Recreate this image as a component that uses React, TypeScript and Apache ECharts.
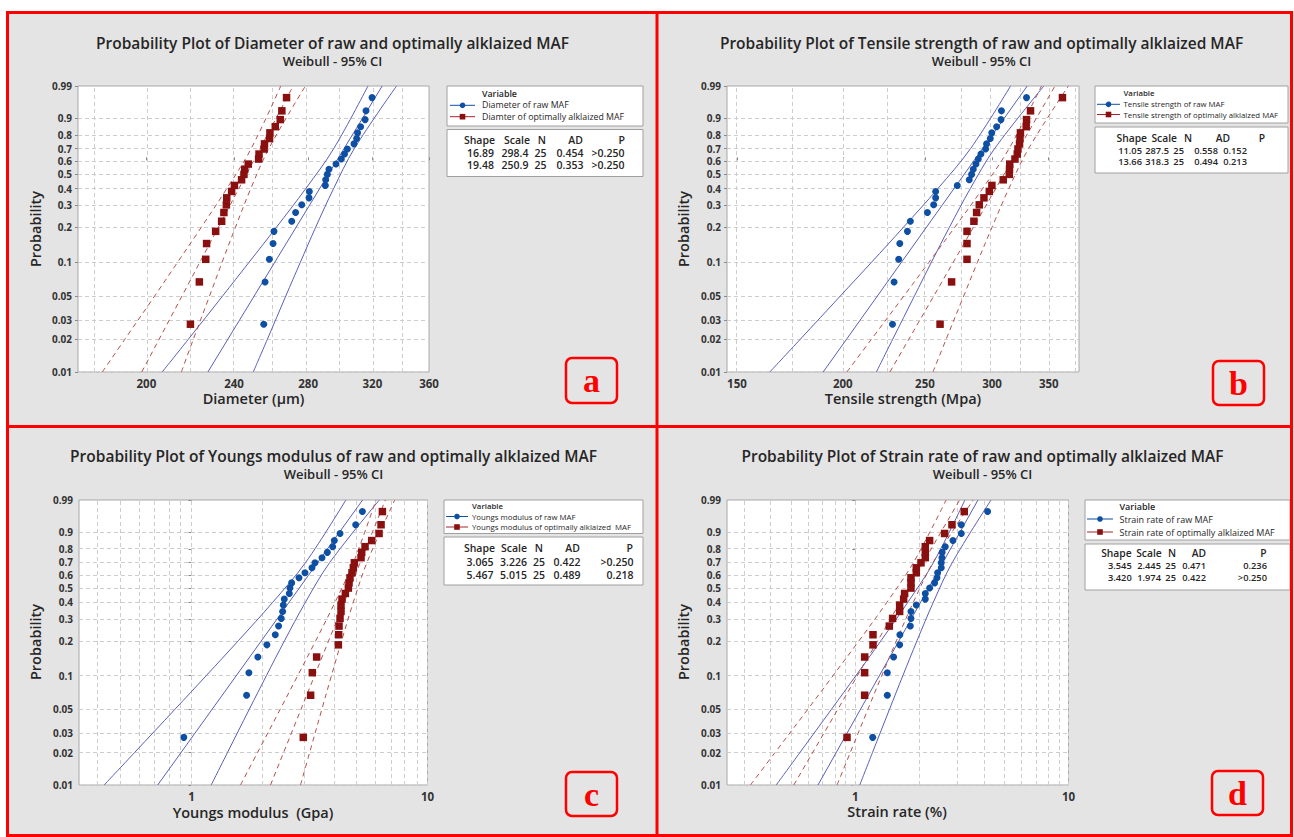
import React, { useEffect, useRef } from "react";
import * as echarts from "echarts";

// ---------------- data ----------------
// median-rank plotting positions of the 25 ordered observations
const plotPositions = [
  0.0276, 0.0669, 0.1063, 0.1457, 0.185, 0.2244, 0.2638, 0.3031, 0.3425, 0.3819, 0.4213, 0.4606, 0.5,
  0.5394, 0.5787, 0.6181, 0.6575, 0.6969, 0.7362, 0.7756, 0.815, 0.8543, 0.8937, 0.9331, 0.9724,
];
const probTickValues = [0.01, 0.02, 0.03, 0.05, 0.1, 0.2, 0.3, 0.4, 0.5, 0.6, 0.7, 0.8, 0.9, 0.99];
const ciLevels = [0.01, 0.02, 0.05, 0.1, 0.2, 0.4, 0.7, 0.99];
const fitLevels = [0.01, 0.99];

// (a) Diameter
const diameterRange = [173.5, 360];
const diameterTicks = [200, 240, 280, 320, 360];
const diameterGrid = [180, 200, 220, 240, 260, 280, 300, 320, 340, 360];
const diameterRaw = [255.3, 256.0, 258.3, 260.3, 260.8, 270.6, 272.8, 276.3, 280.5, 280.7, 290.2, 290.4, 291.4, 292.4, 296.7, 300.0, 302.0, 303.8, 308.0, 309.7, 310.3, 312.3, 315.2, 315.8, 319.8];
const diameterAlk = [219.2, 223.3, 226.3, 226.7, 231.0, 233.9, 235.0, 236.2, 236.4, 238.8, 240.2, 243.8, 245.0, 245.4, 247.2, 252.6, 252.8, 255.5, 255.7, 258.4, 258.6, 261.5, 264.2, 265.1, 267.7];
const diameterRawFit = [227.3, 326.6];
const diameterRawLo = [206.7, 218.2, 234.4, 247.6, 262.1, 278.6, 295.3, 317.1];
const diameterRawHi = [249.8, 257.2, 267.3, 275.5, 284.4, 295.2, 308.2, 336.5];
const diameterAlkFit = [198.1, 271.4];
const diameterAlkLo = [182.5, 191.2, 203.5, 213.4, 224.2, 236.4, 248.7, 264.5];
const diameterAlkHi = [215.1, 220.5, 228.1, 234.1, 240.7, 248.5, 258.0, 278.4];

// (b) Tensile strength
const tensileRange = [146, 380];
const tensileTicks = [150, 200, 250, 300, 350];
const tensileGrid = [150, 175, 200, 225, 250, 275, 300, 325, 350, 375];
const tensileRaw = [228.9, 229.9, 232.8, 233.5, 238.4, 240.3, 251.7, 256.0, 257.4, 257.4, 273.0, 282.0, 283.8, 285.1, 287.2, 289.0, 291.1, 294.8, 295.6, 298.6, 299.8, 303.8, 307.4, 307.8, 329.5];
const tensileAlk = [260.5, 268.8, 280.3, 280.3, 280.3, 285.6, 287.7, 289.8, 293.5, 297.8, 299.9, 309.3, 314.4, 314.6, 314.8, 319.3, 321.3, 321.9, 323.3, 323.7, 324.1, 329.2, 329.5, 333.1, 363.3];
const tensileRawFit = [189.6, 330.1];
const tensileRawLo = [164.0, 178.1, 198.7, 216.2, 235.8, 258.9, 283.0, 315.5];
const tensileRawHi = [219.1, 229.0, 243.0, 254.4, 267.2, 282.8, 302.1, 345.4];
const tensileAlkFit = [227.3, 356.0];
const tensileAlkLo = [202.2, 216.1, 236.1, 252.7, 271.1, 292.4, 314.2, 343.2];
const tensileAlkHi = [255.5, 264.8, 277.8, 288.3, 300.0, 314.0, 331.3, 369.2];

// (c) Youngs modulus
const youngsRange = [0.3338, 10];
const youngsTicks = [1, 10];
const youngsGrid = [0.4, 0.5, 0.6, 0.7, 0.8, 0.9, 1, 2, 3, 4, 5, 6, 7, 8, 9, 10];
const youngsRaw = [0.928, 1.712, 1.751, 1.911, 2.087, 2.265, 2.339, 2.401, 2.433, 2.449, 2.473, 2.597, 2.614, 2.657, 2.854, 3.026, 3.24, 3.336, 3.573, 3.763, 3.965, 4.03, 4.26, 4.963, 5.299];
const youngsAlk = [2.977, 3.198, 3.251, 3.391, 4.191, 4.204, 4.218, 4.26, 4.301, 4.301, 4.343, 4.487, 4.62, 4.65, 4.696, 4.788, 4.851, 4.899, 5.229, 5.263, 5.437, 5.801, 6.233, 6.356, 6.44];
const youngsRawFit = [0.7192, 5.3096];
const youngsRawLo = [0.4267, 0.5741, 0.8522, 1.1542, 1.5784, 2.2097, 3.0466, 4.5104];
const youngsRawHi = [1.2122, 1.4211, 1.7583, 2.0765, 2.4777, 3.0384, 3.8558, 6.2504];
const youngsAlkFit = [2.1619, 6.6313];
const youngsAlkLo = [1.6133, 1.9054, 2.3776, 2.8184, 3.3593, 4.0565, 4.8567, 6.0517];
const youngsAlkHi = [2.897, 3.167, 3.5686, 3.9174, 4.3253, 4.8493, 5.5423, 7.2663];

// (d) Strain rate
const strainRange = [0.25, 10];
const strainTicks = [1, 10];
const strainGrid = [0.3, 0.4, 0.5, 0.6, 0.7, 0.8, 0.9, 1, 2, 3, 4, 5, 6, 7, 8, 9, 10];
const strainRaw = [1.206, 1.413, 1.413, 1.512, 1.614, 1.618, 1.811, 1.824, 1.824, 1.932, 2.129, 2.129, 2.231, 2.354, 2.415, 2.432, 2.53, 2.53, 2.548, 2.555, 2.642, 2.87, 3.141, 3.141, 4.173];
const strainAlk = [0.914, 1.106, 1.106, 1.106, 1.21, 1.21, 1.443, 1.496, 1.614, 1.614, 1.685, 1.703, 1.824, 1.824, 1.824, 1.932, 1.932, 2.032, 2.129, 2.129, 2.129, 2.231, 2.623, 2.84, 3.243];
const strainRawFit = [0.668, 3.7617];
const strainRawLo = [0.4254, 0.5497, 0.7734, 1.0053, 1.3179, 1.7628, 2.327, 3.2668];
const strainRawHi = [1.0489, 1.2034, 1.4468, 1.6705, 1.9462, 2.3215, 2.8526, 4.3314];
const strainAlkFit = [0.5143, 3.0853];
const strainAlkLo = [0.3221, 0.4202, 0.5987, 0.7857, 1.0403, 1.4063, 1.8753, 2.6656];
const strainAlkHi = [0.821, 0.9468, 1.1459, 1.33, 1.5583, 1.8708, 2.3161, 3.5708];

// texts
const panelTitles = [
  "Probability Plot of Diameter of raw and optimally alklaized MAF",
  "Probability Plot of Tensile strength of raw and optimally alklaized MAF",
  "Probability Plot of Youngs modulus of raw and optimally alklaized MAF",
  "Probability Plot of Strain rate of raw and optimally alklaized MAF",
];
const subTitle = "Weibull - 95% CI";
const xNames = ["Diameter (μm)", "Tensile strength (Mpa)", "Youngs modulus  (Gpa)", "Strain rate (%)"];
const yName = "Probability";
const legendLabels = [
  ["Diameter of raw MAF", "Diamter of optimally alklaized MAF"],
  ["Tensile strength of raw MAF", "Tensile strength of optimally alklaized MAF"],
  ["Youngs modulus of raw MAF", "Youngs modulus of optimally alklaized  MAF"],
  ["Strain rate of raw MAF", "Strain rate of optimally alklaized MAF"],
];
const tableHeader = ["Shape", "Scale", "N", "AD", "P"];
const tableRows = [
  [["16.89", "298.4", "25", "0.454", ">0.250"], ["19.48", "250.9", "25", "0.353", ">0.250"]],
  [["11.05", "287.5", "25", "0.558", "0.152"], ["13.66", "318.3", "25", "0.494", "0.213"]],
  [["3.065", "3.226", "25", "0.422", ">0.250"], ["5.467", "5.015", "25", "0.489", "0.218"]],
  [["3.545", "2.445", "25", "0.471", "0.236"], ["3.420", "1.974", "25", "0.422", ">0.250"]],
];
const letters = ["a", "b", "c", "d"];

// ---------------- layout / styles ----------------
const FONT = '"Open Sans", "Noto Sans", sans-serif';
const BLUE = "#0d4fa3";
const BLUE_LINE = "#5a5fb8";
const RED = "#8a0f0f";
const RED_LINE = "#b4514e";
const TEXT = "#262626";

const layout = [
  {
    grid: { left: 78, top: 86, width: 351, height: 286 },
    title: [332.5, 42.5, 60.5], xName: [253.5, 398], yName: [35, 229],
    legend: { box: [447, 86, 196, 40], variable: [482, 94], items: [105.3, 116.7], line: [450, 475], text: 482, size: 8.8 },
    table: { box: [447, 129.5, 196, 47], header: 140, rows: [152.5, 165], headerRight: [495, 530, 546, 583, 625], rowRight: [494, 528.5, 546.5, 583.5, 624.5], headerSize: 10.5, rowSize: 10.5 },
    letter: [566, 358, 51, 45],
  },
  {
    grid: { left: 727, top: 86, width: 352, height: 286 },
    title: [981.5, 42.5, 60.5], xName: [903, 398], yName: [683, 229],
    legend: { box: [1095, 86, 193, 37], variable: [1123.5, 93.3], items: [104.3, 114.5], line: [1097, 1120], text: 1123.5, size: 7.8 },
    table: { box: [1095, 127, 193, 46], header: 137.5, rows: [150, 161.5], headerRight: [1147, 1177, 1192, 1230, 1265], rowRight: [1142, 1169, 1184, 1218, 1247], headerSize: 10.3, rowSize: 9.3 },
    letter: [1213, 361, 51, 44],
  },
  {
    grid: { left: 79, top: 500, width: 348.5, height: 285 },
    title: [333.5, 455.5, 473.5], xName: [253, 812], yName: [35, 642],
    legend: { box: [444, 500, 199, 33.5], variable: [472, 506], items: [516.5, 527], line: [446, 468], text: 472, size: 7.8 },
    table: { box: [444, 537, 199, 48], header: 548, rows: [561.5, 574.5], headerRight: [495, 527, 543, 580, 633], rowRight: [493.5, 527, 545, 580.5, 633.5], headerSize: 10.5, rowSize: 10.5 },
    letter: [566, 772, 51, 44],
  },
  {
    grid: { left: 727, top: 500, width: 341.5, height: 285 },
    title: [982.5, 455.5, 473.5], xName: [897, 811], yName: [683, 642],
    legend: { box: [1085, 500, 205, 40], variable: [1119.5, 506], items: [519, 532], line: [1087, 1113], text: 1119.5, size: 9 },
    table: { box: [1085, 544, 205, 46], header: 552.5, rows: [565, 577.5], headerRight: [1131.7, 1161.7, 1176, 1206, 1266.7], rowRight: [1131.7, 1161, 1176, 1206, 1267], headerSize: 10.3, rowSize: 9.3 },
    letter: [1212, 771, 51, 44],
  },
];

const panelData = [
  { range: diameterRange, ticks: diameterTicks, grid: diameterGrid, raw: diameterRaw, alk: diameterAlk, rawFit: diameterRawFit, rawLo: diameterRawLo, rawHi: diameterRawHi, alkFit: diameterAlkFit, alkLo: diameterAlkLo, alkHi: diameterAlkHi },
  { range: tensileRange, ticks: tensileTicks, grid: tensileGrid, raw: tensileRaw, alk: tensileAlk, rawFit: tensileRawFit, rawLo: tensileRawLo, rawHi: tensileRawHi, alkFit: tensileAlkFit, alkLo: tensileAlkLo, alkHi: tensileAlkHi },
  { range: youngsRange, ticks: youngsTicks, grid: youngsGrid, raw: youngsRaw, alk: youngsAlk, rawFit: youngsRawFit, rawLo: youngsRawLo, rawHi: youngsRawHi, alkFit: youngsAlkFit, alkLo: youngsAlkLo, alkHi: youngsAlkHi },
  { range: strainRange, ticks: strainTicks, grid: strainGrid, raw: strainRaw, alk: strainAlk, rawFit: strainRawFit, rawLo: strainRawLo, rawHi: strainRawHi, alkFit: strainAlkFit, alkLo: strainAlkLo, alkHi: strainAlkHi },
];

// Weibull probability scale and log value scale
const Yp = (p: number) => Math.log(-Math.log(1 - p));
const Lx = (v: number) => Math.log(v);

function text(x: number, y: number, s: string, o: any = {}) {
  const size = o.size || 12;
  return {
    type: "text",
    x,
    y,
    z: 100,
    silent: true,
    rotation: o.rotation || 0,
    style: {
      text: s,
      fill: o.color || TEXT,
      fontSize: size,
      lineHeight: Math.round(size * 1.05),
      fontWeight: o.weight || "normal",
      fontFamily: o.family || FONT,
      align: o.align || "left",
      verticalAlign: o.va || "middle",
      textAlign: o.align || "left",
      textVerticalAlign: o.va || "middle",
    },
  };
}

function buildOption() {
  const grids: any[] = [];
  const xAxes: any[] = [];
  const yAxes: any[] = [];
  const series: any[] = [];
  const graphics: any[] = [];

  // frame outside strips (white) and red frame
  graphics.push({ type: "rect", z: 99, silent: true, shape: { x: 0, y: 0, width: 1294, height: 11 }, style: { fill: "#ffffff" } });
  graphics.push({ type: "rect", z: 99, silent: true, shape: { x: 0, y: 0, width: 6, height: 837 }, style: { fill: "#ffffff" } });
  graphics.push({ type: "rect", z: 100, silent: true, shape: { x: 7.5, y: 12.5, width: 1284, height: 823 }, style: { fill: "none", stroke: "#ff0000", lineWidth: 3 } });
  graphics.push({ type: "line", z: 100, silent: true, shape: { x1: 657, y1: 12, x2: 657, y2: 837 }, style: { stroke: "#ff0000", lineWidth: 3 } });
  graphics.push({ type: "line", z: 100, silent: true, shape: { x1: 7, y1: 426.5, x2: 1293, y2: 426.5 }, style: { stroke: "#ff0000", lineWidth: 3 } });

  panelData.forEach((d, i) => {
    const L = layout[i];
    grids.push({ ...L.grid, show: true, backgroundColor: "#ffffff", borderColor: "#a8a8a8", borderWidth: 1, containLabel: false });
    xAxes.push({
      type: "value",
      gridIndex: i,
      min: Lx(d.range[0]),
      max: Lx(d.range[1]),
      axisLine: { show: false },
      splitLine: { show: false },
      axisTick: { show: true, customValues: d.ticks.map(Lx), length: 3, inside: false, lineStyle: { color: "#8a8a8a" } },
      axisLabel: {
        customValues: d.ticks.map(Lx),
        formatter: (v: number) => String(Math.round(Math.exp(v))),
        margin: 5,
        fontSize: 11.5,
        fontWeight: "bold",
        fontFamily: FONT,
        color: "#333",
      },
    });
    yAxes.push({
      type: "value",
      gridIndex: i,
      min: Yp(0.01),
      max: Yp(0.99),
      axisLine: { show: false },
      splitLine: { show: false },
      axisTick: { show: true, customValues: probTickValues.map(Yp), length: 3, lineStyle: { color: "#8a8a8a" } },
      axisLabel: {
        customValues: probTickValues.map(Yp),
        formatter: (v: number) => String(Math.round((1 - Math.exp(-Math.exp(v))) * 100) / 100),
        margin: 6,
        fontSize: 10,
        fontWeight: "bold",
        fontFamily: FONT,
        color: "#333",
      },
    });

    // dashed reference grid
    series.push({
      type: "line",
      xAxisIndex: i,
      yAxisIndex: i,
      data: [[Lx(d.range[0]), Yp(0.01)]],
      symbol: "none",
      silent: true,
      z: 1,
      lineStyle: { width: 0 },
      markLine: {
        silent: true,
        z: 1,
        symbol: ["none", "none"],
        label: { show: false },
        emphasis: { disabled: true },
        lineStyle: { color: "#cdcdcd", type: [4, 3], width: 1 },
        data: [...d.grid.map((v) => ({ xAxis: Lx(v) })), ...probTickValues.map((p) => ({ yAxis: Yp(p) }))],
      },
    });

    const line = (vals: number[], levels: number[], color: string, dashed: boolean, smooth: number) => ({
      type: "line",
      xAxisIndex: i,
      yAxisIndex: i,
      data: vals.map((v, k) => [Lx(v), Yp(levels[k])]),
      showSymbol: false,
      symbol: "none",
      smooth,
      silent: true,
      z: 3,
      lineStyle: { color, width: 1, type: dashed ? [5, 4] : "solid" },
    });
    series.push(line(d.rawLo, ciLevels, BLUE_LINE, false, 0.35));
    series.push(line(d.rawHi, ciLevels, BLUE_LINE, false, 0.35));
    series.push(line(d.rawFit, fitLevels, BLUE_LINE, false, 0));
    series.push(line(d.alkLo, ciLevels, RED_LINE, true, 0.35));
    series.push(line(d.alkHi, ciLevels, RED_LINE, true, 0.35));
    series.push(line(d.alkFit, fitLevels, RED_LINE, true, 0));

    series.push({
      type: "scatter",
      xAxisIndex: i,
      yAxisIndex: i,
      symbol: "circle",
      symbolSize: 7,
      z: 5,
      itemStyle: { color: BLUE, opacity: 1 },
      data: d.raw.map((v, k) => [Lx(v), Yp(plotPositions[k])]),
    });
    series.push({
      type: "scatter",
      xAxisIndex: i,
      yAxisIndex: i,
      symbol: "rect",
      symbolSize: 7.5,
      z: 5,
      itemStyle: { color: RED, opacity: 1 },
      data: d.alk.map((v, k) => [Lx(v), Yp(plotPositions[k])]),
    });

    // titles and axis names
    graphics.push(text(L.title[0], L.title[1], panelTitles[i], { size: 15.5, weight: 600, align: "center" }));
    graphics.push(text(L.title[0], L.title[2], subTitle, { size: 13, weight: 600, align: "center" }));
    graphics.push(text(L.xName[0], L.xName[1], xNames[i], { size: 14.5, weight: 600, align: "center" }));
    graphics.push(text(L.yName[0], L.yName[1], yName, { size: 14.5, weight: 600, align: "center", rotation: Math.PI / 2 }));

    // legend box
    const lg = L.legend;
    graphics.push({ type: "rect", z: 90, silent: true, shape: { x: lg.box[0], y: lg.box[1], width: lg.box[2], height: lg.box[3] }, style: { fill: "#ffffff", stroke: "#a0a0a0", lineWidth: 1 } });
    graphics.push(text(lg.variable[0], lg.variable[1], "Variable", { size: lg.size, weight: 600 }));
    [BLUE, RED].forEach((c, k) => {
      const y = lg.items[k];
      graphics.push({ type: "line", z: 100, silent: true, shape: { x1: lg.line[0], y1: y, x2: lg.line[1], y2: y }, style: { stroke: k === 0 ? BLUE : "#a3262a", lineWidth: 1 } });
      const mx = (lg.line[0] + lg.line[1]) / 2;
      if (k === 0) graphics.push({ type: "circle", z: 100, silent: true, shape: { cx: mx, cy: y, r: 2.8 }, style: { fill: BLUE } });
      else graphics.push({ type: "rect", z: 100, silent: true, shape: { x: mx - 2.8, y: y - 2.8, width: 5.6, height: 5.6 }, style: { fill: RED } });
      graphics.push(text(lg.text, y, legendLabels[i][k], { size: lg.size }));
    });

    // table box
    const tb = L.table;
    graphics.push({ type: "rect", z: 90, silent: true, shape: { x: tb.box[0], y: tb.box[1], width: tb.box[2], height: tb.box[3] }, style: { fill: "#ffffff", stroke: "#a0a0a0", lineWidth: 1 } });
    tableHeader.forEach((h, k) => graphics.push(text(tb.headerRight[k], tb.header, h, { size: tb.headerSize, weight: 600, align: "right" })));
    tableRows[i].forEach((row, r) =>
      row.forEach((c, k) => graphics.push(text(tb.rowRight[k], tb.rows[r], c, { size: tb.rowSize, weight: 600, align: "right" })))
    );

    // letter badge
    const lt = L.letter;
    graphics.push({ type: "rect", z: 100, silent: true, shape: { x: lt[0], y: lt[1], width: lt[2], height: lt[3], r: 6 }, style: { fill: "none", stroke: "#ff0000", lineWidth: 2.5 } });
    graphics.push(text(lt[0] + lt[2] / 2, lt[1] + lt[3] / 2, letters[i], { size: 34, weight: "bold", align: "center", color: "#ff0000", family: '"Liberation Serif", "DejaVu Serif", serif' }));
  });

  return {
    animation: false,
    backgroundColor: "#e4e4e4",
    textStyle: { fontFamily: FONT },
    grid: grids,
    xAxis: xAxes,
    yAxis: yAxes,
    series,
    graphic: { elements: graphics },
  };
}

export default function App() {
  const ref = useRef<HTMLDivElement>(null);
  useEffect(() => {
    if (!ref.current) return;
    const chart = echarts.init(ref.current, undefined, { renderer: "svg", width: 1294, height: 837 });
    chart.setOption(buildOption() as any);
    return () => chart.dispose();
  }, []);
  return <div ref={ref} style={{ position: "fixed", left: 0, top: 0, width: 1294, height: 837 }} />;
}
